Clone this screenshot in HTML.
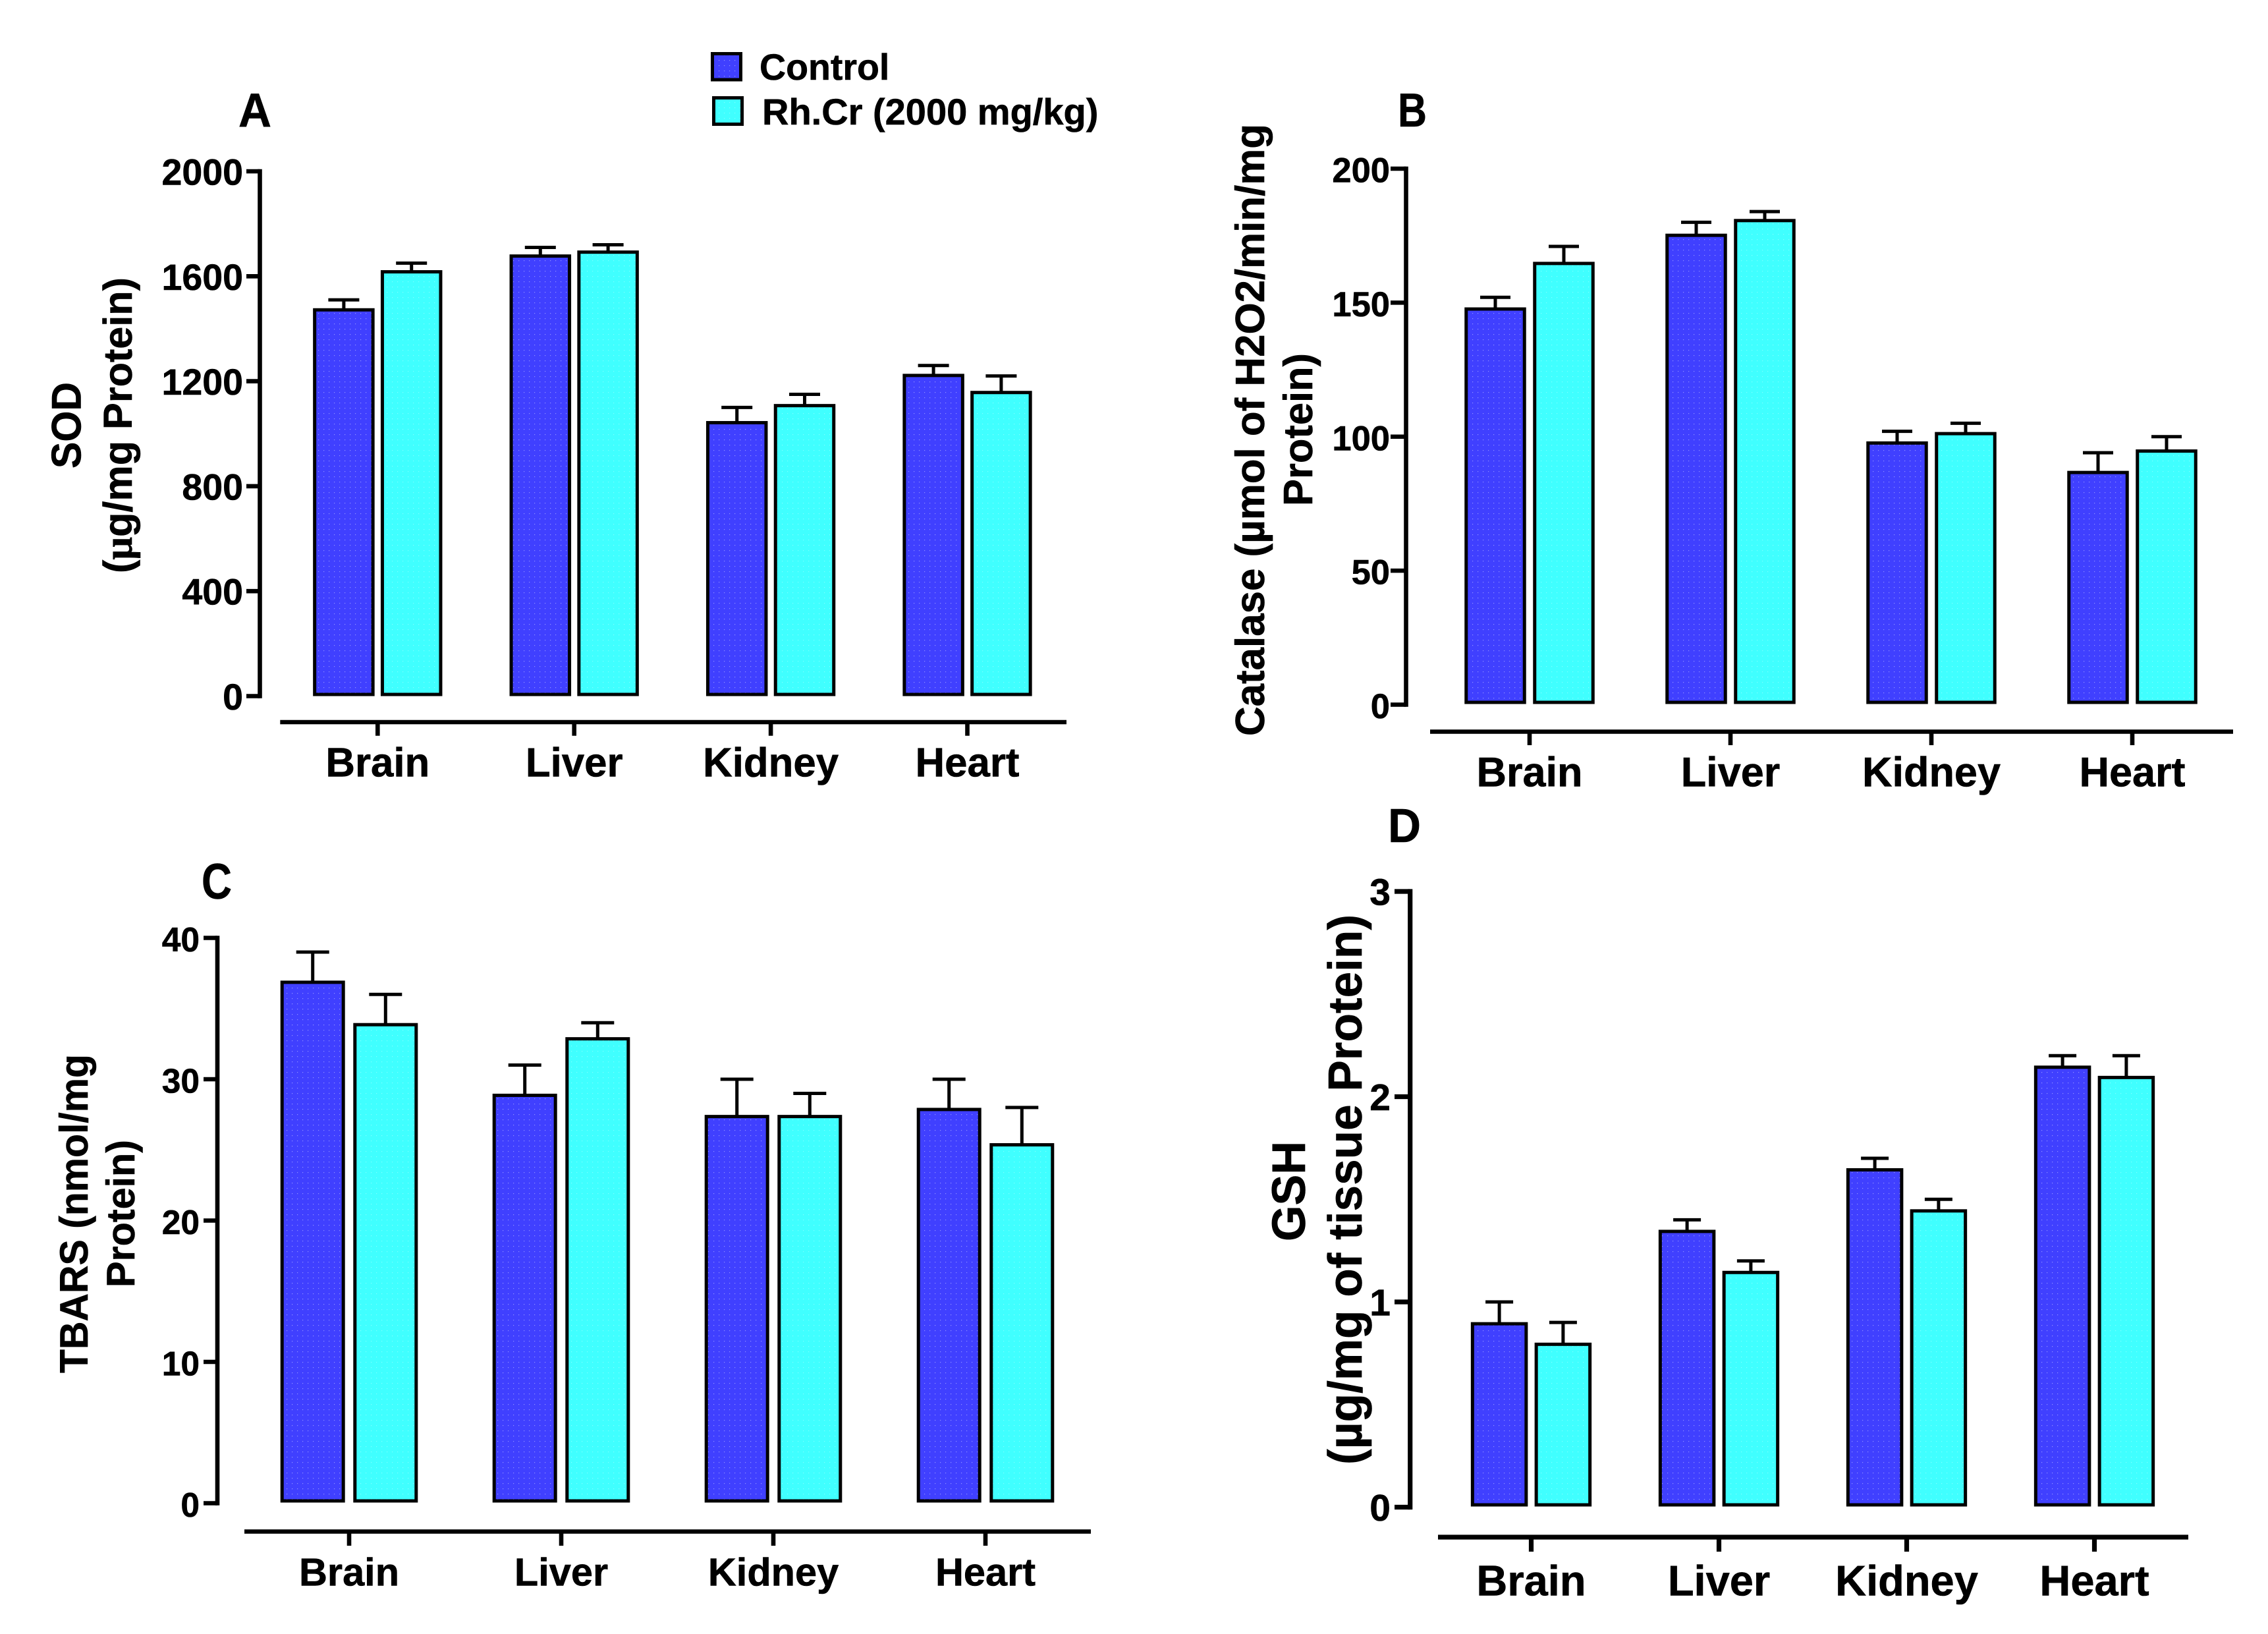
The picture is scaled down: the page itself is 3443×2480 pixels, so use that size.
<!DOCTYPE html>
<html lang="en">
<head>
<meta charset="utf-8">
<title>Antioxidant markers: Control vs Rh.Cr</title>
<style>
html,body{margin:0;padding:0;background:#fff;}
svg{display:block;}
text{font-family:"Liberation Sans",Arial,sans-serif;font-weight:700;fill:#000;stroke:#000;stroke-width:0.6px;}
</style>
</head>
<body>
<svg id="figure" xmlns="http://www.w3.org/2000/svg" width="3443" height="2480" viewBox="0 0 3443 2480">
  <defs>
    <pattern id="dots-blue" width="8" height="8" patternUnits="userSpaceOnUse">
      <rect width="8" height="8" fill="#4040ff"/>
      <rect x="3" y="3" width="1.2" height="1.2" fill="#9090ff"/>
    </pattern>
    <pattern id="dots-cyan" width="8" height="8" patternUnits="userSpaceOnUse">
      <rect width="8" height="8" fill="#40ffff"/>
      <rect x="3" y="3" width="1.2" height="1.2" fill="#80ffff"/>
    </pattern>
  </defs>
  <rect x="0" y="0" width="3443" height="2480" fill="#fff"/>

  <g>
    <rect x="1081.5" y="81.5" width="43" height="39.5" fill="url(#dots-blue)" stroke="#000" stroke-width="5"/>
    <text x="1153" y="121" font-size="55.5">Control</text>
    <rect x="1083.5" y="148.5" width="43" height="40" fill="url(#dots-cyan)" stroke="#000" stroke-width="5"/>
    <text x="1157" y="189" font-size="56">Rh.Cr (2000 mg/kg)</text>
  </g>

  <text x="362" y="192" font-size="72" textLength="50" lengthAdjust="spacingAndGlyphs">A</text>
  <text x="2122" y="192" font-size="72" textLength="44" lengthAdjust="spacingAndGlyphs">B</text>
  <text x="306" y="1364" font-size="76" textLength="46" lengthAdjust="spacingAndGlyphs">C</text>
  <text x="2107" y="1278" font-size="72" textLength="50" lengthAdjust="spacingAndGlyphs">D</text>

  <g>
    <text transform="translate(122.7,711) rotate(-90)" font-size="63" textLength="131" lengthAdjust="spacingAndGlyphs">SOD</text>
    <text transform="translate(200,870) rotate(-90)" font-size="61" textLength="449" lengthAdjust="spacingAndGlyphs">(<tspan font-family="Liberation Serif">μ</tspan>g/mg Protein)</text>
  </g>
  <g>
    <text transform="translate(1919,1117) rotate(-90)" font-size="62" textLength="929" lengthAdjust="spacingAndGlyphs">Catalase (µmol of H2O2/min/mg</text>
    <text transform="translate(1992,768) rotate(-90)" font-size="62" textLength="232" lengthAdjust="spacingAndGlyphs">Protein)</text>
  </g>
  <g>
    <text transform="translate(133,2084) rotate(-90)" font-size="60" textLength="484" lengthAdjust="spacingAndGlyphs">TBARS (nmol/mg</text>
    <text transform="translate(204,1954) rotate(-90)" font-size="60" textLength="224" lengthAdjust="spacingAndGlyphs">Protein)</text>
  </g>
  <g>
    <text transform="translate(1981,1884) rotate(-90)" font-size="71" textLength="152" lengthAdjust="spacingAndGlyphs">GSH</text>
    <text transform="translate(2067,2223) rotate(-90)" font-size="72" textLength="835" lengthAdjust="spacingAndGlyphs">(µg/mg of tissue Protein)</text>
  </g>
</svg>
<script>
const categories = ["Brain", "Liver", "Kidney", "Heart"];

const sodTicks = [0, 400, 800, 1200, 1600, 2000];
const sodControl = [1475, 1680, 1045, 1225];
const sodRhCr = [1620, 1695, 1110, 1160];
const sodControlTop = [1510, 1710, 1100, 1260];
const sodRhCrTop = [1650, 1720, 1150, 1220];

const catalaseTicks = [0, 50, 100, 150, 200];
const catalaseControl = [148, 175.5, 98, 87];
const catalaseRhCr = [165, 181, 101.5, 95];
const catalaseControlTop = [152, 180, 102, 94];
const catalaseRhCrTop = [171, 184, 105, 100];

const tbarsTicks = [0, 10, 20, 30, 40];
const tbarsControl = [37, 29, 27.5, 28];
const tbarsRhCr = [34, 33, 27.5, 25.5];
const tbarsControlTop = [39, 31, 30, 30];
const tbarsRhCrTop = [36, 34, 29, 28];

const gshTicks = [0, 1, 2, 3];
const gshControl = [0.9, 1.35, 1.65, 2.15];
const gshRhCr = [0.8, 1.15, 1.45, 2.1];
const gshControlTop = [1.0, 1.4, 1.7, 2.2];
const gshRhCrTop = [0.9, 1.2, 1.5, 2.2];

const NS = "http://www.w3.org/2000/svg";
const figure = document.getElementById("figure");

function make(parent, tag, props) {
  const el = document.createElementNS(NS, tag);
  for (const key in props) el.setAttribute(key, props[key]);
  parent.appendChild(el);
  return el;
}

function drawPanel(id, g, data) {
  const maxV = data.ticks[data.ticks.length - 1];
  const yScale = v => g.y0 + (v / maxV) * (g.yTop - g.y0);
  const xGroup = i => g.cx0 + i * g.step;

  const panel = make(figure, "g", {});
  
  

  categories.forEach((cat, i) => {
    [[data.control, data.controlTop, -1, "url(#dots-blue)", "control"],
     [data.rh, data.rhTop, 1, "url(#dots-cyan)", "rhcr"]].forEach(s => {
      const cx = xGroup(i) + s[2] * g.off;
      const yv = yScale(s[0][i]) + g.topInset;
      const yt = yScale(s[1][i]);
      const bottom = g.y0 - g.inset;
      const stem = make(panel, "line", {x1: cx, x2: cx, y1: yv, y2: yt, stroke: "#000", "stroke-width": 5});
      
      
      const cap = make(panel, "line", {x1: cx - g.cap / 2, x2: cx + g.cap / 2, y1: yt, y2: yt, stroke: "#000", "stroke-width": 5});
      
      
      const bar = make(panel, "rect", {x: cx - g.w / 2, y: yv, width: g.w, height: bottom - yv, fill: s[3], stroke: "#000", "stroke-width": 5});
      
      
    });
  });

  const yAxis = make(panel, "line", {x1: g.ax, x2: g.ax, y1: g.yTop - g.lw / 2, y2: g.y0 + g.lw / 2, stroke: "#000", "stroke-width": g.lw});
  
  

  data.ticks.forEach(t => {
    const y = yScale(t);
    const tick = make(panel, "line", {x1: g.tickX, x2: g.ax, y1: y, y2: y, stroke: "#000", "stroke-width": g.lw});
    
    
    const label = make(panel, "text", {x: g.labelX, y: y + 20.5, "text-anchor": "end", "font-size": g.tickFont});
    label.textContent = String(t);
    
    
  });

  const xAxis = make(panel, "line", {x1: g.xa0, x2: g.xa1, y1: g.xy, y2: g.xy, stroke: "#000", "stroke-width": g.lw});
  
  

  categories.forEach((cat, i) => {
    const cx = xGroup(i);
    const tick = make(panel, "line", {x1: cx, x2: cx, y1: g.xy, y2: g.xTickEnd, stroke: "#000", "stroke-width": g.lw});
    
    
    const label = make(panel, "text", {x: cx, y: g.catY, "text-anchor": "middle", "font-size": g.catFont});
    label.textContent = cat;
    
    
  });
}

drawPanel("a",
  {y0: 1056.5, yTop: 260, ax: 394.5, tickX: 374, labelX: 369, tickFont: 55.5, lw: 6.6, inset: 2.5, topInset: 1.2, cx0: 573.3, step: 298.4, off: 51.4, w: 88.5, cap: 47, xy: 1096, xa0: 425.3, xa1: 1619, xTickEnd: 1116.7, catY: 1178.5, catFont: 61.8},
  {ticks: sodTicks, control: sodControl, rh: sodRhCr, controlTop: sodControlTop, rhTop: sodRhCrTop});

drawPanel("b",
  {y0: 1069.5, yTop: 256, ax: 2134.5, tickX: 2111, labelX: 2110, tickFont: 52.5, lw: 6.6, inset: 3.5, topInset: 1.5, cx0: 2322, step: 305, off: 52, w: 88.5, cap: 46, xy: 1110.5, xa0: 2171, xa1: 3390, xTickEnd: 1131, catY: 1193.5, catFont: 63},
  {ticks: catalaseTicks, control: catalaseControl, rh: catalaseRhCr, controlTop: catalaseControlTop, rhTop: catalaseRhCrTop});

drawPanel("c",
  {y0: 2281.5, yTop: 1423.5, ax: 330, tickX: 309, labelX: 303, tickFont: 51.5, lw: 6.6, inset: 3.5, topInset: 3, cx0: 530, step: 322, off: 55.3, w: 93, cap: 50, xy: 2324.5, xa0: 371, xa1: 1656, xTickEnd: 2346, catY: 2406.5, catFont: 59.5},
  {ticks: tbarsTicks, control: tbarsControl, rh: tbarsRhCr, controlTop: tbarsControlTop, rhTop: tbarsRhCrTop});

drawPanel("d",
  {y0: 2287.5, yTop: 1353, ax: 2140.7, tickX: 2117, labelX: 2111, tickFont: 57, lw: 7.2, inset: 3.5, topInset: 2, cx0: 2324.5, step: 285, off: 48.4, w: 81.5, cap: 42, xy: 2333, xa0: 2183, xa1: 3322, xTickEnd: 2355, catY: 2421.5, catFont: 65},
  {ticks: gshTicks, control: gshControl, rh: gshRhCr, controlTop: gshControlTop, rhTop: gshRhCrTop});
</script>
</body>
</html>
